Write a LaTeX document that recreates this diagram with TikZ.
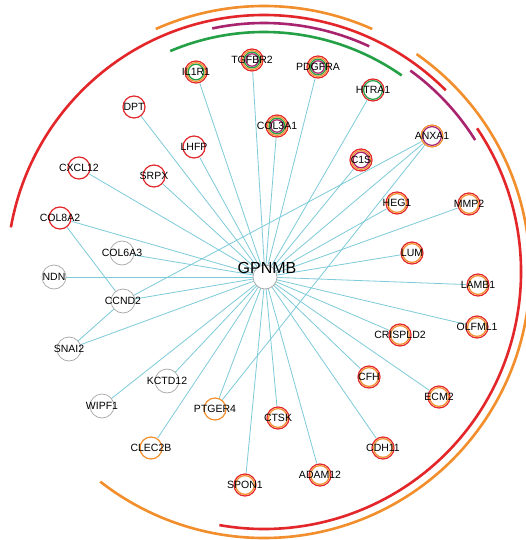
\documentclass[tikz,border=0pt]{standalone}
\usepackage{fontspec}
\setmainfont{Liberation Sans}
\usetikzlibrary{calc}
\definecolor{setred}{HTML}{E3262A}
\definecolor{setorange}{HTML}{F28E2B}
\definecolor{setpurple}{HTML}{A8246F}
\definecolor{setgreen}{HTML}{24A046}
\definecolor{edgecyan}{HTML}{7DCBD9}
\definecolor{ringgray}{HTML}{A6A6A6}
\pgfdeclarelayer{background}
\pgfsetlayers{background,main}
\tikzset{
  x=1pt, y=-1pt,
  genecirc/.style={circle, fill=white, draw=none, minimum size=24pt, inner sep=0pt, outer sep=0pt},
  genelabel/.style={font=\fontsize{10.5}{12}\selectfont, text=black, inner sep=0pt},
  ring/.style={line width=1.2pt},
  grayring/.style={draw=ringgray, line width=0.7pt},
  link/.style={draw=edgecyan, line width=0.8pt},
  setarc/.style={line width=2.6pt}
}
% gene node: name, position, label, ring colours (outermost first)
\newcommand\gene[4]{%
  \node[genecirc] (#1) at (#2) {};
  \foreach \c [count=\i] in {#4} {
    \draw[ring, draw=\c] (#1.center) circle[radius=12.6pt-1.6pt*\i];
  }
  \node[genelabel] at (#1.center) {#3};
}
\newcommand\plaingene[3]{%
  \node[genecirc, grayring, draw=ringgray] (#1) at (#2) {};
  \node[genelabel] at (#1.center) {#3};
}
\begin{document}
\begin{tikzpicture}
\useasboundingbox (0,0) rectangle (526,540);

% hub
\node[genecirc, grayring] (GPNMB) at (265,277) {};
\node[font=\fontsize{16}{18}\selectfont, inner sep=0pt] (hublabel) at (267,268) {GPNMB};

% genes in several sets
\gene{IL1R1}{196,72}{IL1R1}{setred,setorange,setgreen}
\gene{TGFBR2}{252,60}{TGFBR2}{setred,setorange,setgreen,setpurple}
\gene{PDGFRA}{318,67}{PDGFRA}{setred,setorange,setgreen,setpurple}
\gene{COL3A1}{277,126}{COL3A1}{setred,setorange,setgreen,setpurple}
\gene{HTRA1}{373,90}{HTRA1}{setred,setgreen}
\gene{ANXA1}{432,136}{ANXA1}{setorange,setpurple}
\gene{C1S}{361,160}{C1S}{setred,setorange,setpurple}
\gene{HEG1}{397,203}{HEG1}{setred,setorange}
\gene{MMP2}{469,204}{MMP2}{setred,setorange}
\gene{LUM}{412,253}{LUM}{setred,setorange}
\gene{LAMB1}{478,285}{LAMB1}{setred,setorange}
\gene{OLFML1}{477,327}{OLFML1}{setred,setorange}
\gene{CRISPLD2}{400,335}{CRISPLD2}{setred,setorange}
\gene{CFH}{369,377}{CFH}{setred,setorange}
\gene{ECM2}{439,397}{ECM2}{setred,setorange}
\gene{CDH11}{383,448}{CDH11}{setred,setorange}
\gene{ADAM12}{320,475}{ADAM12}{setred,setorange}
\gene{CTSK}{278,418}{CTSK}{setred,setorange}
\gene{SPON1}{245,485}{SPON1}{setred,setorange}
\gene{PTGER4}{215,409}{PTGER4}{setorange}
\gene{CLEC2B}{151,448}{CLEC2B}{setorange}
\gene{COL8A2}{60,218}{COL8A2}{setred}
\gene{CXCL12}{79,168}{CXCL12}{setred}
\gene{SRPX}{154,176}{SRPX}{setred}
\gene{DPT}{134,107}{DPT}{setred}
\gene{LHFP}{194,147}{LHFP}{setred}

% genes in no set
\plaingene{KCTD12}{167,381}{KCTD12}
\plaingene{WIPF1}{102,406}{WIPF1}
\plaingene{SNAI2}{69,349}{SNAI2}
\plaingene{CCND2}{123,301}{CCND2}
\plaingene{NDN}{54,277}{NDN}
\plaingene{COL6A3}{122,253}{COL6A3}

% interactions, drawn behind the nodes
\begin{pgfonlayer}{background}
  \fill[white] (0,0) rectangle (526,540);
  \foreach \g in {IL1R1,TGFBR2,PDGFRA,COL3A1,HTRA1,ANXA1,C1S,HEG1,MMP2,LUM,
                  LAMB1,OLFML1,CRISPLD2,CFH,ECM2,CDH11,ADAM12,CTSK,SPON1,PTGER4,
                  CLEC2B,KCTD12,WIPF1,SNAI2,CCND2,NDN,COL6A3,COL8A2,CXCL12,SRPX,DPT,LHFP}
    \draw[link] (GPNMB.center) -- (\g.center);
  \draw[link] (COL8A2.center) -- (CCND2.center);
  \draw[link] (CCND2.center) -- (SNAI2.center);
  \draw[link] (ANXA1.center) -- (CCND2.center);
  \draw[link] (ANXA1.center) -- (PTGER4.center);
\end{pgfonlayer}

% set arcs around the network
\coordinate (ctr) at (264,272);
\draw[setarc, setorange] ([shift={(66:266pt)}]ctr) arc[start angle=66, end angle=114, radius=266pt];
\draw[setarc, setorange] ([shift={(55:266pt)}]ctr) arc[start angle=55, end angle=-128, radius=266pt];
\draw[setarc, setred] ([shift={(45:257pt)}]ctr) arc[start angle=45, end angle=170, radius=257pt];
\draw[setarc, setred] ([shift={(34:257pt)}]ctr) arc[start angle=34, end angle=-100, radius=257pt];
\draw[setarc, setpurple] ([shift={(65:249pt)}]ctr) arc[start angle=65, end angle=102, radius=249pt];
\draw[setarc, setpurple] ([shift={(32:249pt)}]ctr) arc[start angle=32, end angle=54, radius=249pt];
\draw[setarc, setgreen] ([shift={(55:240pt)}]ctr) arc[start angle=55, end angle=113, radius=240pt];
\end{tikzpicture}
\end{document}
